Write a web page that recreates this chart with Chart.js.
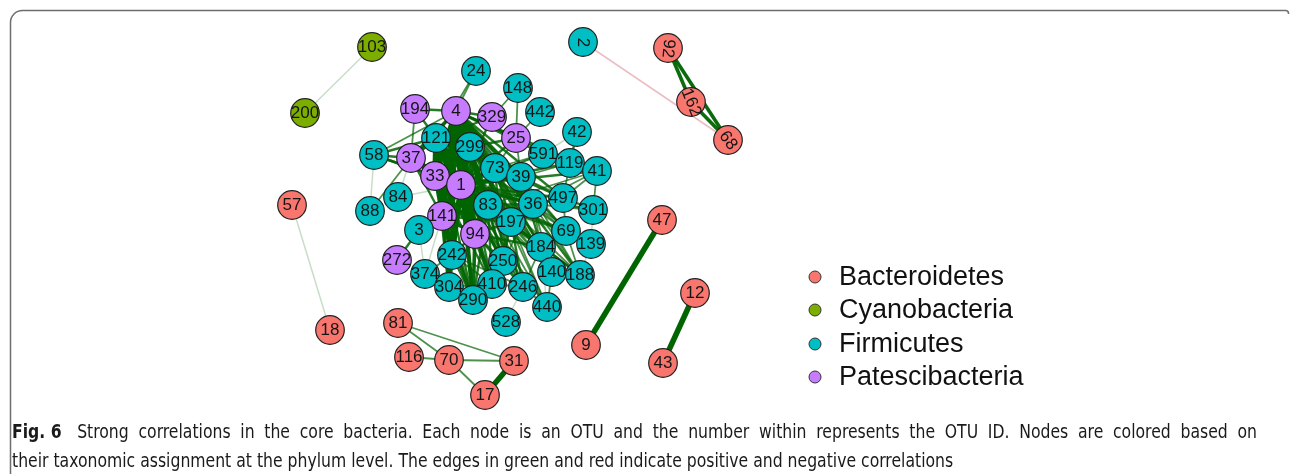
<!DOCTYPE html>
<html><head><meta charset="utf-8">
<script src="https://cdn.jsdelivr.net/npm/chart.js@4.4.1/dist/chart.umd.min.js"></script>
<style>html,body{margin:0;padding:0;background:#fff;overflow:hidden}canvas{display:block}</style>
</head><body>
<canvas id="c" width="1290" height="474"></canvas>
<script>
// ---- data ----
const phyla = ['Bacteroidetes', 'Cyanobacteria', 'Firmicutes', 'Patescibacteria'];
const phylumColors = ['#F8766D', '#7CAE00', '#00BFC4', '#C77CFF'];

const nodeIds = ['103','200','2','92','162','68','24','148','194','4','329','442','25','42','121','299','58','37','591','119','41','73','39','33','1','84','83','36','497','301','57','88','141','197','69','3','94','184','139','47','242','250','272','140','188','374','410','246','304','290','440','12','528','18','81','116','70','31','9','43','17'];
const nodeX = [372,305,583,668,691,728,476,518,415,456,492,540,516,577,436,470,374,411,543,570,597,495,521,435,461,398,488,533,563,593,292,370,442,511,566,419,475,541,591,662,452,503,397,552,580,425,492,523,449,473,547,695,506,330,398,409,449,514,586,663,485];
const nodeY = [47,113,42,48,102,140,71,88,109,111,117,112,138,132,138,147,155,158,154,163,171,168,177,176,185,197,205,204,198,210,205,211,216,222,231,230,234,247,244,220,255,261,260,272,275,274,284,287,287,300,307,293,322,330,323,357,360,361,345,363,395];
const nodePhylum = ['Cyanobacteria','Cyanobacteria','Firmicutes','Bacteroidetes','Bacteroidetes','Bacteroidetes','Firmicutes','Firmicutes','Patescibacteria','Patescibacteria','Patescibacteria','Firmicutes','Patescibacteria','Firmicutes','Firmicutes','Firmicutes','Firmicutes','Patescibacteria','Firmicutes','Firmicutes','Firmicutes','Firmicutes','Firmicutes','Patescibacteria','Patescibacteria','Firmicutes','Firmicutes','Firmicutes','Firmicutes','Firmicutes','Bacteroidetes','Firmicutes','Patescibacteria','Firmicutes','Firmicutes','Firmicutes','Patescibacteria','Firmicutes','Firmicutes','Bacteroidetes','Firmicutes','Firmicutes','Patescibacteria','Firmicutes','Firmicutes','Firmicutes','Firmicutes','Firmicutes','Firmicutes','Firmicutes','Firmicutes','Bacteroidetes','Firmicutes','Bacteroidetes','Bacteroidetes','Bacteroidetes','Bacteroidetes','Bacteroidetes','Bacteroidetes','Bacteroidetes','Bacteroidetes'];
const rotatedLabels = ['2','92','162','68'];
const rotatedAngles = [90, 95, 68, 55];

// edges: [from, to, strength 1..5]
const positiveEdges = [
 ['103','200',1],['57','18',1],['92','162',4],['92','68',4],['162','68',4],['92','68',1],
 ['47','9',5],['12','43',5],
 ['81','70',2],['81','31',2],['116','70',2],['70','31',2],['70','17',2],['31','17',5],
 ['4','1',5],['4','33',5],['121','1',5],['121','33',5],['4','141',5],['121','141',5],['299','1',5],['4','299',4],
 ['33','141',4],['1','141',5],['1','94',5],['4','94',5],['121','94',5],['1','242',5],['141','242',4],['33','242',4],
 ['1','304',4],['141','304',4],['94','290',4],['1','290',4],['4','83',5],['121','83',4],['299','83',4],['1','83',5],
 ['1','73',4],['4','73',4],['299','73',4],['1','197',4],['4','197',4],['83','197',3],['1','250',4],['94','250',3],
 ['1','410',4],['83','410',3],['4','39',4],['1','39',4],['299','39',3],['4','36',3],['1','36',4],['83','36',3],
 ['73','36',3],['121','36',3],['33','197',3],['4','184',3],['1','184',3],['83','184',3],['4','246',3],['1','246',3],
 ['197','246',3],['83','246',3],['4','69',3],['1','69',3],['36','69',2],['39','69',2],['83','69',3],['73','497',3],
 ['1','497',3],['4','497',3],['39','497',2],['36','497',2],['4','591',3],['1','591',3],['73','591',2],['4','119',3],
 ['1','119',3],['39','119',2],['4','41',3],['1','41',3],['36','41',2],['83','41',2],['1','301',3],['39','301',2],
 ['36','301',2],['1','140',3],['83','140',2],['197','140',2],['36','140',2],['1','188',3],['39','188',2],['83','188',2],
 ['36','188',2],['1','139',2],['83','139',1],['36','139',2],['4','25',3],['1','25',3],['299','25',3],['4','329',3],
 ['1','329',3],['121','329',3],['73','25',2],['25','39',2],['194','121',3],['194','37',2],['194','4',3],['24','4',2],
 ['24','121',2],['148','25',2],['148','329',2],['442','25',2],['42','119',3],['42','591',1],['119','41',2],['591','119',2],
 ['591','41',2],['41','301',2],['301','139',1],['139','188',1],['188','140',2],['69','139',2],['69','188',2],['497','301',2],
 ['497','41',2],['497','119',2],['69','497',2],['184','140',2],['184','188',2],['184','69',2],['184','246',2],['246','440',2],
 ['140','440',2],['246','410',2],['250','246',2],['250','410',2],['410','290',2],['410','304',2],['290','304',2],['242','304',3],
 ['242','290',3],['242','410',2],['94','410',3],['94','242',3],['141','3',1],['3','272',3],['3','374',1],['374','141',1],
 ['374','242',2],['304','374',1],['528','246',1],['440','184',1],['58','37',3],['58','121',3],['58','33',3],['58','1',3],
 ['58','4',2],['58','88',1],['88','37',2],['84','37',1],['84','1',1],['37','4',4],['37','121',4],['37','1',4],['37','33',4],
 ['37','83',3],['37','141',3],['33','83',4],['33','94',4],['141','94',4],['141','290',4],['4','290',4],['4','242',4],
 ['4','410',3],['121','242',4],['121','197',3],['299','197',3],['299','36',3],['73','197',3],['73','184',3],['39','184',3],
 ['39','36',2],['36','184',2],['197','184',2],['197','250',2],['197','410',2],['83','250',3],['83','290',3],['94','184',3],
 ['1','440',3],['83','440',2],['197','440',2],['94','246',3],['242','246',2],['4','140',3],['4','188',3],['121','188',2],
 ['121','73',4],['121','299',4],['33','299',4],['33','73',3],['121','39',3],['33','36',3],['141','83',4],['141','197',3],
 ['94','197',3],['94','83',3],['299','94',4],['299','141',4],['4','304',3],['121','304',3],['121','290',3],['33','290',3],
 ['299','242',3],['73','94',3],['73','83',3],['299','250',3],['73','250',3],['39','250',2],['36','250',2],['121','410',3],
 ['33','410',3],['121','250',3],['121','69',2],['121','140',2],['33','184',2],['121','184',3],['4','440',2]
];
const negativeEdges = [['2','68',1]];

// ---- build ----
const idx = id => nodeIds.indexOf(id);
const widthFor = [0, 1.5, 1.8, 2.4, 3.6, 5.5];
const alphaFor = [0, 0.22, 0.7, 0.85, 0.95, 1];

const datasets = [];
phyla.forEach((p, k) => {
  const pts = [];
  nodeIds.forEach((id, i) => { if (nodePhylum[i] === p) pts.push({x: nodeX[i], y: nodeY[i], id}); });
  datasets.push({label: p, data: pts, backgroundColor: phylumColors[k], borderColor: '#222',
    borderWidth: 1.2, pointRadius: 14.3, pointHoverRadius: 14.3, showLine: false, order: 0});
});
positiveEdges.forEach(([a, b, s]) => {
  const i = idx(a), j = idx(b);
  datasets.push({data: [{x: nodeX[i], y: nodeY[i]}, {x: nodeX[j], y: nodeY[j]}], showLine: true,
    borderColor: `rgba(0,100,0,${alphaFor[s]})`, borderWidth: widthFor[s], pointRadius: 0, order: 2});
});
negativeEdges.forEach(([a, b, s]) => {
  const i = idx(a), j = idx(b);
  datasets.push({data: [{x: nodeX[i], y: nodeY[i]}, {x: nodeX[j], y: nodeY[j]}], showLine: true,
    borderColor: 'rgba(210,110,125,0.45)', borderWidth: 1.6, pointRadius: 0, order: 2});
});

const framePlugin = {
  id: 'frame',
  beforeDraw(chart) {
    const ctx = chart.ctx;
    ctx.save();
    ctx.strokeStyle = '#6e6e6e';
    ctx.lineWidth = 1.5;
    const l = 10.5, t = 10.5, r = 1288.5, rad = 12;
    ctx.beginPath();
    ctx.moveTo(l, 500);
    ctx.lineTo(l, t + rad);
    ctx.arcTo(l, t, l + rad, t, rad);
    ctx.lineTo(r - 3, t);
    ctx.arcTo(r, t, r, t + 3, 3);
    ctx.lineTo(r, 14);
    ctx.stroke();
    ctx.restore();
  }
};

const labelPlugin = {
  id: 'nodeLabels',
  afterDatasetsDraw(chart) {
    const ctx = chart.ctx, xs = chart.scales.x, ys = chart.scales.y;
    ctx.save();
    ctx.font = "17px 'Liberation Sans', Arial, sans-serif";
    ctx.fillStyle = '#151515';
    ctx.textAlign = 'center';
    ctx.textBaseline = 'middle';
    nodeIds.forEach((id, i) => {
      const px = xs.getPixelForValue(nodeX[i]), py = ys.getPixelForValue(nodeY[i]);
      const r = rotatedLabels.indexOf(id);
      ctx.save();
      ctx.translate(px, py + 0.5);
      if (r >= 0) ctx.rotate(rotatedAngles[r] * Math.PI / 180);
      ctx.fillText(id, 0, 0);
      ctx.restore();
    });
    ctx.restore();
  },
  afterDraw(chart) {
    const ctx = chart.ctx;
    ctx.save();
    // legend
    const ly = [277, 310, 344, 377];
    phyla.forEach((p, k) => {
      ctx.beginPath();
      ctx.arc(815, ly[k], 6, 0, Math.PI * 2);
      ctx.fillStyle = phylumColors[k];
      ctx.fill();
      ctx.strokeStyle = '#333';
      ctx.lineWidth = 1;
      ctx.stroke();
      ctx.fillStyle = '#111';
      ctx.font = "27px 'Liberation Sans', Arial, sans-serif";
      ctx.textAlign = 'left';
      ctx.textBaseline = 'middle';
      ctx.fillText(p, 839, ly[k] + 1);
    });
    // caption: line 1 justified to the box width, line 2 ragged
    const capFont = "'DejaVu Sans Condensed', 'Liberation Sans Narrow', sans-serif";
    const regular = '19px ' + capFont, boldF = 'bold 19px ' + capFont;
    const bold = 'Fig. 6';
    const line1 = 'Strong correlations in the core bacteria. Each node is an OTU and the number within represents the OTU ID. Nodes are colored based on';
    const line2 = 'their taxonomic assignment at the phylum level. The edges in green and red indicate positive and negative correlations';
    ctx.textBaseline = 'alphabetic';
    ctx.textAlign = 'left';
    ctx.fillStyle = '#1a1a1a';
    ctx.font = boldF;
    const wbRaw = ctx.measureText(bold + '  ').width;
    ctx.font = regular;
    const l1Raw = ctx.measureText(line1).width;
    const sA = (858 - 12) / ctx.measureText(line2).width;
    const sB = (1257 - 12) / (wbRaw + l1Raw);
    const s = 0.5 * sA + 0.5 * sB;
    ctx.save();
    ctx.translate(12, 467);
    ctx.scale(s, 1);
    ctx.fillText(line2, 0, 0);
    ctx.restore();
    ctx.font = boldF;
    const wb = ctx.measureText(bold).width * s;
    ctx.font = regular;
    const words = line1.split(' ');
    const ww = words.map(w => ctx.measureText(w).width * s);
    const total = wb + ww.reduce((a, b) => a + b, 0);
    const gap = (1257 - 12 - total) / (words.length + 0.6);
    ctx.save();
    ctx.translate(12, 438);
    ctx.scale(s, 1);
    ctx.font = boldF;
    ctx.fillText(bold, 0, 0);
    ctx.restore();
    ctx.font = regular;
    let x = 12 + wb + gap * 1.6;
    words.forEach((w, k) => {
      ctx.save();
      ctx.translate(x, 438);
      ctx.scale(s, 1);
      ctx.fillText(w, 0, 0);
      ctx.restore();
      x += ww[k] + gap;
    });
    ctx.restore();
  }
};

new Chart(document.getElementById('c'), {
  type: 'scatter',
  data: {datasets},
  options: {
    responsive: false,
    animation: false,
    devicePixelRatio: 1,
    events: [],
    layout: {padding: 0, autoPadding: false},
    plugins: {legend: {display: false}, tooltip: {enabled: false}},
    scales: {
      x: {type: 'linear', min: 0, max: 1290, display: false},
      y: {type: 'linear', min: 0, max: 474, reverse: true, display: false}
    }
  },
  plugins: [framePlugin, labelPlugin]
});
</script>
</body></html>
